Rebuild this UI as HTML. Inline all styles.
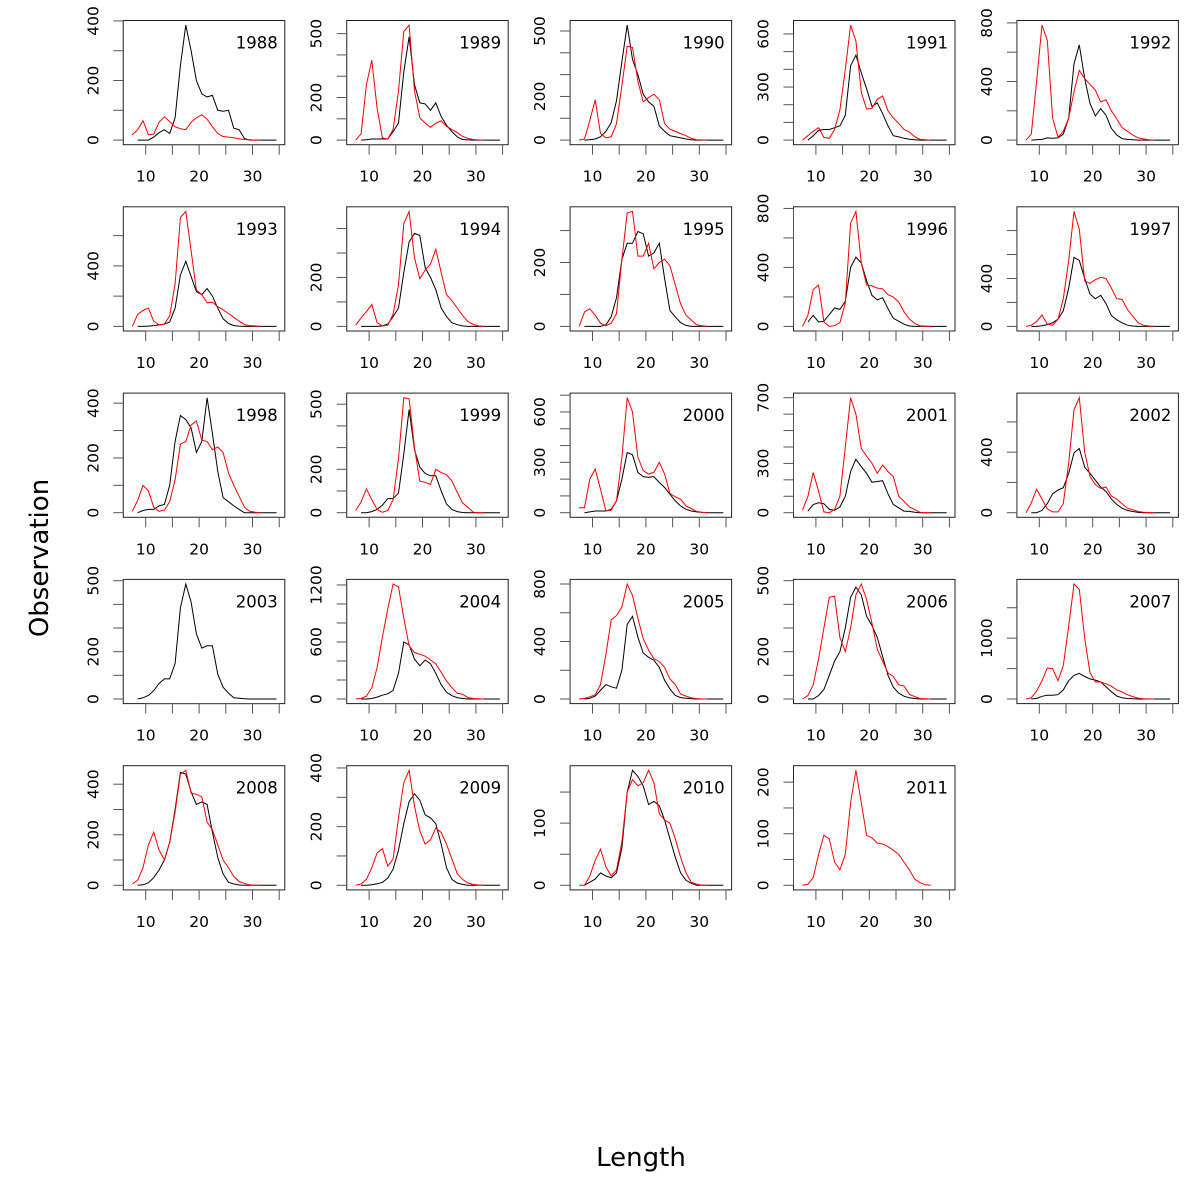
<!DOCTYPE html>
<html><head><meta charset="utf-8"><style>
html,body{margin:0;padding:0;background:#fff;}
svg{display:block;font-family:"DejaVu Sans","Liberation Sans",sans-serif;}
</style></head><body>
<svg id="chart" width="1200" height="1200" viewBox="0 0 1200 1200" xmlns="http://www.w3.org/2000/svg">
<rect x="0" y="0" width="1200" height="1200" fill="#fff"/>
<text x="38" y="558" font-size="26" text-anchor="middle" transform="rotate(-90 38 558) translate(0 10)">Observation</text>
<text x="641" y="1166" font-size="26" text-anchor="middle">Length</text>
<g id="panels"></g>
</svg>
<script>
const years = [1988,1989,1990,1991,1992,1993,1994,1995,1996,1997,1998,1999,2000,2001,2002,2003,2004,2005,2006,2007,2008,2009,2010,2011];
const redLengths = [7.5,8.5,9.5,10.5,11.5,12.5,13.5,14.5,15.5,16.5,17.5,18.5,19.5,20.5,21.5,22.5,23.5,24.5,25.5,26.5,27.5,28.5,29.5,30.5,31.5];
const blackLengths = [8.5,9.5,10.5,11.5,12.5,13.5,14.5,15.5,16.5,17.5,18.5,19.5,20.5,21.5,22.5,23.5,24.5,25.5,26.5,27.5,28.5,29.5,30.5,31.5,32.5,33.5,34.5];
const redObs = [
[18,35,65,18,20,60,78,62,45,38,35,60,75,85,70,45,22,12,10,8,4,2,1,0,0],
[0,30,260,375,150,10,5,50,230,510,540,230,105,80,60,80,90,65,50,35,18,8,3,1,0],
[0,5,90,185,30,10,15,75,250,430,425,270,175,195,210,185,75,50,40,30,20,8,2,1,0],
[0,25,50,70,15,10,60,170,400,650,560,270,175,180,230,250,165,125,95,60,45,20,5,2,0],
[0,40,400,785,680,150,20,60,150,330,475,420,380,340,260,275,200,145,85,60,35,15,8,3,0],
[0,80,105,120,35,10,15,70,280,720,760,500,240,210,155,160,130,110,85,60,35,12,5,3,0],
[5,35,60,90,15,2,5,50,170,420,470,280,195,230,255,315,220,130,105,75,45,20,8,2,0],
[0,45,55,35,10,2,10,40,210,355,360,220,220,260,180,200,210,190,130,70,35,20,5,2,0],
[0,75,250,280,30,0,5,25,160,700,780,430,280,275,260,255,215,200,165,100,50,20,5,2,0],
[0,10,40,95,20,10,60,230,550,960,810,380,360,390,410,400,320,230,225,140,85,30,10,3,0],
[5,45,100,80,20,5,10,40,120,250,260,320,335,265,260,230,240,220,145,100,60,20,5,2,0],
[10,50,110,60,15,2,10,60,250,530,525,300,145,140,130,200,185,175,145,95,45,25,2,0,0],
[30,30,200,260,140,10,15,70,330,685,600,330,250,230,240,300,230,115,95,80,40,25,8,3,0],
[15,100,245,130,5,0,20,100,400,700,600,390,345,300,240,290,250,220,100,70,35,20,2,0,0],
[0,65,155,90,25,5,5,60,330,680,760,400,240,185,160,170,110,90,60,30,20,8,3,1,0],
[],
[0,5,30,120,330,650,950,1210,1180,850,560,490,470,450,410,370,280,190,120,60,50,15,5,3,0],
[0,5,15,30,100,310,550,580,640,800,720,560,420,340,280,260,220,140,100,35,20,8,3,1,0],
[0,15,60,170,300,430,435,260,200,300,440,486,420,320,210,160,110,95,60,55,20,10,2,1,0],
[0,20,130,300,510,500,300,550,1200,1890,1800,1000,430,280,280,250,210,150,115,70,40,15,5,2,0],
[5,20,70,160,210,140,100,170,290,440,455,365,360,350,250,220,160,100,70,35,15,8,2,0,0],
[0,5,20,60,110,125,65,90,230,350,392,270,185,140,155,195,180,140,90,40,20,8,3,1,0],
[0,0,15,40,58,30,15,25,70,150,170,160,165,185,165,115,105,100,75,45,20,5,2,0,0],
[0,2,15,60,97,90,45,30,60,160,223,160,97,92,82,80,75,68,60,45,30,12,5,1,0]
];
const blackObs = [
[0,0,0,10,25,35,22,75,250,386,300,200,155,145,150,100,97,100,40,35,5,0,0,0,0,0,0],
[0,2,5,5,5,5,40,80,320,485,260,175,170,140,175,110,70,40,15,3,1,0,0,0,0,0,0],
[0,2,5,15,40,80,180,360,527,370,300,210,175,155,65,40,20,15,10,5,2,0,0,0,0,0,0],
[0,25,55,60,60,70,80,140,420,480,380,290,190,210,150,80,25,18,10,5,2,0,0,0,0,0,0],
[0,2,5,15,12,15,40,150,520,650,420,250,165,215,170,80,35,10,5,3,0,0,0,0,0,0,0],
[0,0,2,5,10,15,30,120,340,430,330,230,210,250,200,120,50,20,5,2,0,0,0,0,0,0,0],
[0,0,0,0,2,10,40,75,220,345,380,372,240,200,150,75,40,15,7,2,0,0,0,0,0,0,0],
[0,0,0,0,5,30,90,210,260,260,297,290,220,230,260,150,50,30,12,3,0,0,0,0,0,0,0],
[30,75,30,35,80,125,115,170,400,470,430,310,210,180,195,120,55,35,15,3,0,0,0,0,0,0,0],
[0,0,5,15,30,60,130,320,576,550,400,270,230,260,190,90,55,30,10,3,0,0,0,0,0,0,0],
[0,8,12,12,25,30,100,260,355,340,310,220,260,420,290,150,55,40,25,12,0,0,0,0,0,0,0],
[0,0,5,15,35,65,65,90,270,475,290,210,180,170,170,100,40,15,5,1,0,0,0,0,0,0,0],
[0,5,10,10,10,20,70,200,358,345,240,215,210,215,180,150,110,70,40,20,10,5,2,0,0,0,0],
[10,50,60,55,20,15,35,100,250,325,280,240,185,190,195,115,50,30,10,8,3,0,0,0,0,0,0],
[0,0,15,60,125,150,165,260,395,424,300,260,215,170,140,90,55,30,15,8,2,0,0,0,0,0,0],
[0,5,15,35,65,85,85,150,385,486,410,275,215,225,225,105,50,25,5,3,1,0,0,0,0,0,0],
[0,0,5,20,40,55,90,270,600,570,420,350,410,370,270,150,70,35,15,5,0,0,0,0,0,0,0],
[0,5,20,60,100,85,75,200,520,575,430,320,290,270,220,130,70,25,10,5,2,0,0,0,0,0,0],
[0,0,15,40,100,160,200,300,430,473,440,350,310,260,180,100,50,25,12,5,2,0,0,0,0,0,0],
[0,10,45,60,60,70,150,300,390,420,370,330,310,280,200,120,50,20,8,3,0,0,0,0,0,0,0],
[0,2,10,30,60,100,170,300,447,440,370,320,330,320,210,110,45,12,5,1,0,0,0,0,0,0,0],
[0,0,2,5,10,25,55,120,210,285,312,290,240,230,210,140,60,20,8,3,0,0,0,0,0,0,0],
[0,5,10,20,15,12,20,60,150,185,175,160,130,135,128,105,75,45,20,8,3,0,0,0,0,0,0],
[]
];
const yTickSteps = [100,100,100,100,200,200,100,100,200,200,100,100,100,100,200,100,200,200,100,500,100,100,50,50];
const yTickLabels = [[0,200,400],[0,200,500],[0,200,500],[0,300,600],[0,400,800],[0,400],[0,200],[0,200],[0,400,800],[0,400],[0,200,400],[0,200,500],[0,300,600],[0,300,700],[0,400],[0,200,500],[0,600,1200],[0,400,800],[0,200,500],[0,1000],[0,200,400],[0,200,400],[0,100],[0,100,200]];
const xTicks = [10,15,20,25,30,35];
const xTickLabels = [10,20,30];

const NS = 'http://www.w3.org/2000/svg';
const root = document.getElementById('panels');
function mk(tag, attrs, parent){const e=document.createElementNS(NS,tag);for(const k in attrs)e.setAttribute(k,attrs[k]);parent.appendChild(e);return e;}

years.forEach((yr, i) => {
  const c = i % 5, r = Math.floor(i / 5);
  const left = 123.3 + c * 223.4, top = 20.5 + r * 186.3, w = 161.5, h = 124.2;
  const xs = v => left + 22.4 + (v - 10) * 5.34;
  const red = redObs[i], blk = blackObs[i];
  const ymax = Math.max(1, ...red, ...blk);
  const lo = -0.04 * ymax, hi = 1.04 * ymax;
  const ys = v => top + h * (hi - v) / (hi - lo);
  const g = mk('g', {}, root);
  
  

  const box = mk('rect', {x:left, y:top, width:w, height:h, fill:'none', stroke:'#222', 'stroke-width':1}, g);
  
  

  // x axis
  const xa = mk('g', {stroke:'#555','stroke-width':1}, g);
  
  
  mk('line', {x1:xs(xTicks[0]), x2:xs(xTicks[xTicks.length-1]), y1:top+h, y2:top+h}, xa);
  xTicks.forEach(t => { mk('line', {x1:xs(t), x2:xs(t), y1:top+h, y2:top+h+10}, xa); });
  xTickLabels.forEach(t => {
    const tx = mk('text', {x:xs(t), y:top+h+37, 'font-size':15.5, 'text-anchor':'middle', fill:'#000'}, g);
    
    
    tx.textContent = t;
  });

  // y axis
  const step = yTickSteps[i];
  const ticks = [];
  for (let v = 0; v <= hi + 1e-9; v += step) ticks.push(v);
  const ya = mk('g', {stroke:'#555','stroke-width':1}, g);
  
  
  mk('line', {x1:left, x2:left, y1:ys(0), y2:ys(ticks[ticks.length-1])}, ya);
  ticks.forEach(t => { mk('line', {x1:left-10, x2:left, y1:ys(t), y2:ys(t)}, ya); });
  yTickLabels[i].forEach(t => {
    const bx = left - 25, by = ys(t);
    const tx = mk('text', {x:bx, y:by, 'font-size':15.5, 'text-anchor':'middle', fill:'#000', transform:'rotate(-90 '+bx+' '+by+')'}, g);
    
    
    tx.textContent = t;
  });

  // series
  if (blk.length) {
    const p = mk('polyline', {fill:'none', stroke:'#000', 'stroke-width':1, points: blk.map((v,k)=>xs(blackLengths[k]).toFixed(1)+','+ys(v).toFixed(1)).join(' ')}, g);
    
    
  }
  if (red.length) {
    const p = mk('polyline', {fill:'none', stroke:'#ff0000', 'stroke-width':1, points: red.map((v,k)=>xs(redLengths[k]).toFixed(1)+','+ys(v).toFixed(1)).join(' ')}, g);
    
    
  }

  const yl = mk('text', {x:left+w-7, y:top+28, 'font-size':16.5, 'text-anchor':'end', fill:'#000'}, g);
  
  
  yl.textContent = yr;
});
</script>
</body></html>
